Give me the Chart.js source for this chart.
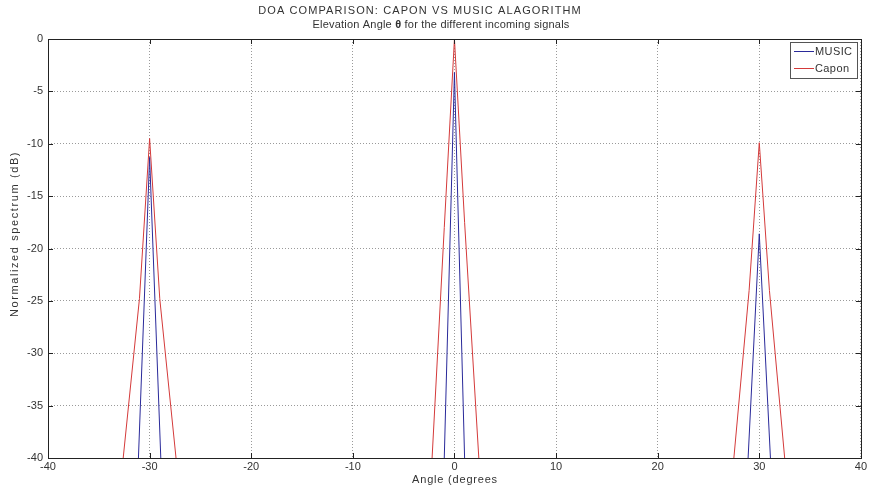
<!DOCTYPE html>
<html>
<head>
<meta charset="utf-8">
<script src="https://cdn.jsdelivr.net/npm/chart.js@4"></script>
<style>
  html, body { margin: 0; padding: 0; background: #fff; }
  #wrap { width: 869px; height: 491px; }
</style>
</head>
<body>
<div id="wrap"><canvas id="c" width="869" height="491"></canvas></div>
<script>
// angles (degrees) and normalized spectrum (dB); null breaks the line where it drops below -40
var musicAngle = [-31.1, -30, -28.9, null, -1.0, 0, 1.0, null, 28.9, 30, 31.1];
var musicDb    = [-40, -11.3, -40, null, -40, -3.2, -40, null, -40, -18.6, -40];

var caponAngle = [-32.6, -31, -30, -29, -27.4, null, -2.2, -1, 0, 1, 2.4, null, 27.5, 29, 30, 31, 32.5];
var caponDb    = [-40, -24.8, -9.5, -24.8, -40, null, -40, -18, 0, -17.5, -40, null, -40, -24, -9.9, -24, -40];

var xTicks = [-40, -30, -20, -10, 0, 10, 20, 30, 40];
var yTicks = [0, -5, -10, -15, -20, -25, -30, -35, -40];

var titleLine1 = 'DOA COMPARISON: CAPON VS MUSIC ALAGORITHM';
var titleLine2 = ['Elevation Angle ', '\u03B8', ' for the different incoming signals'];
var xLabel = 'Angle (degrees';
var yLabel = 'Normalized spectrum (dB)';

function toPoints(xs, ys) {
  var out = [];
  for (var i = 0; i < xs.length; i++) {
    out.push(xs[i] === null ? { x: NaN, y: null } : { x: xs[i], y: ys[i] });
  }
  return out;
}

var FONT = '"Liberation Sans", Arial, Helvetica, sans-serif';

function spaced(ctx, px) {
  if ('letterSpacing' in ctx) ctx.letterSpacing = px + 'px';
}

var matlabFrame = {
  id: 'matlabFrame',
  afterDraw: function (chart) {
    var ctx = chart.ctx;
    var a = chart.chartArea;
    var xs = chart.scales.x, ys = chart.scales.y;
    ctx.save();
    ctx.strokeStyle = '#222';
    ctx.lineWidth = 1;
    ctx.strokeRect(Math.round(a.left) + 0.5, Math.round(a.top) + 0.5,
      Math.round(a.right - a.left), Math.round(a.bottom - a.top));
    // inward ticks
    var tl = 5;
    ctx.beginPath();
    xTicks.forEach(function (v) {
      var px = Math.round(xs.getPixelForValue(v)) + 0.5;
      ctx.moveTo(px, a.bottom); ctx.lineTo(px, a.bottom - tl);
      ctx.moveTo(px, a.top); ctx.lineTo(px, a.top + tl);
    });
    yTicks.forEach(function (v) {
      var py = Math.round(ys.getPixelForValue(v)) + 0.5;
      ctx.moveTo(a.left, py); ctx.lineTo(a.left + tl, py);
      ctx.moveTo(a.right, py); ctx.lineTo(a.right - tl, py);
    });
    ctx.stroke();

    // titles
    ctx.fillStyle = '#333';
    ctx.textBaseline = 'middle';
    ctx.font = '11px ' + FONT;
    ctx.textAlign = 'center';
    spaced(ctx, 1.1);
    ctx.fillText(titleLine1, 420, 11);
    spaced(ctx, 0.2);
    var w0 = ctx.measureText(titleLine2[0]).width;
    ctx.font = 'bold 11px ' + FONT;
    var w1 = ctx.measureText(titleLine2[1]).width;
    ctx.font = '11px ' + FONT;
    var w2 = ctx.measureText(titleLine2[2]).width;
    var sx = 441 - (w0 + w1 + w2) / 2;
    ctx.textAlign = 'left';
    ctx.fillText(titleLine2[0], sx, 25);
    ctx.font = 'bold 11px ' + FONT;
    ctx.fillText(titleLine2[1], sx + w0, 25);
    ctx.font = '11px ' + FONT;
    ctx.fillText(titleLine2[2], sx + w0 + w1, 25);

    // axis labels
    ctx.textAlign = 'center';
    spaced(ctx, 0.8);
    ctx.fillText(xLabel, 455, 480);
    ctx.save();
    ctx.translate(15, 234);
    ctx.rotate(-Math.PI / 2);
    spaced(ctx, 1.6);
    ctx.fillText(yLabel, 0, 0);
    ctx.restore();

    // legend box (top right inside axes)
    spaced(ctx, 0.4);
    var bx = 790, by = 42, bw = 67, bh = 36;
    ctx.fillStyle = '#fff';
    ctx.fillRect(bx, by, bw, bh);
    ctx.strokeStyle = '#555';
    ctx.strokeRect(bx + 0.5, by + 0.5, bw, bh);
    chart.data.datasets.forEach(function (ds, i) {
      var ly = by + 9 + i * 17 + 0.5;
      ctx.strokeStyle = ds.borderColor;
      ctx.beginPath();
      ctx.moveTo(bx + 4, ly); ctx.lineTo(bx + 24, ly);
      ctx.stroke();
      ctx.fillStyle = '#333';
      ctx.textAlign = 'left';
      ctx.fillText(ds.label, bx + 25, ly);
    });
    ctx.restore();
  }
};

new Chart(document.getElementById('c'), {
  type: 'line',
  data: {
    datasets: [{
      label: 'MUSIC',
      data: toPoints(musicAngle, musicDb),
      borderColor: '#2a2a9a',
      borderWidth: 1,
      pointRadius: 0,
      tension: 0,
      spanGaps: false
    }, {
      label: 'Capon',
      data: toPoints(caponAngle, caponDb),
      borderColor: '#d43a3a',
      borderWidth: 1,
      pointRadius: 0,
      tension: 0,
      spanGaps: false
    }]
  },
  options: {
    responsive: false,
    animation: false,
    layout: { padding: { top: 39, right: 8, left: 0, bottom: 0 } },
    plugins: {
      legend: { display: false },
      tooltip: { enabled: false }
    },
    scales: {
      x: {
        type: 'linear',
        min: -40, max: 40,
        afterBuildTicks: function (s) { s.ticks = xTicks.map(function (v) { return { value: v }; }); },
        grid: { color: '#9a9a9a', drawTicks: false, lineWidth: 1 },
        border: { display: false, dash: [1, 2] },
        ticks: { color: '#333', font: { family: FONT, size: 11 }, padding: 2, maxRotation: 0 },
        afterFit: function (s) { s.height = 33; }
      },
      y: {
        type: 'linear',
        min: -40, max: 0,
        afterBuildTicks: function (s) { s.ticks = yTicks.map(function (v) { return { value: v }; }); },
        grid: { color: '#9a9a9a', drawTicks: false, lineWidth: 1 },
        border: { display: false, dash: [1, 2] },
        ticks: { color: '#333', font: { family: FONT, size: 11 }, padding: 5 },
        afterFit: function (s) { s.width = 48; }
      }
    }
  },
  plugins: [matlabFrame]
});
</script>
</body>
</html>
